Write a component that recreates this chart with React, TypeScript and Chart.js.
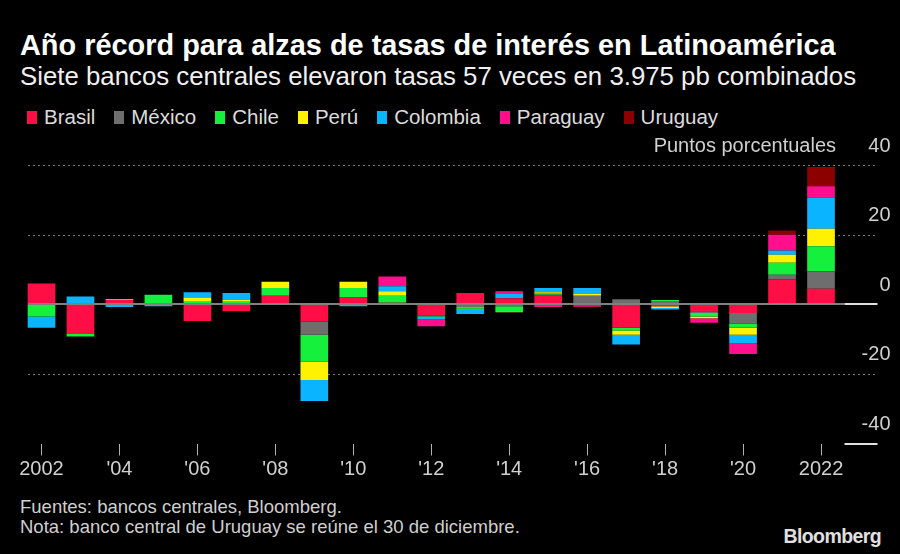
import React, { useEffect, useRef } from 'react';
import { Chart, registerables } from 'chart.js';

Chart.register(...registerables);

const years = ['2002','2003','2004','2005','2006','2007','2008','2009','2010','2011','2012','2013','2014','2015','2016','2017','2018','2019','2020','2021','2022'];
const xTickLabels = ['2002','',"'04",'',"'06",'',"'08",'',"'10",'',"'12",'',"'14",'',"'16",'',"'18",'',"'20",'','2022'];
const yTickValues = [-40, -20, 0, 20, 40];

const brasil   = [6.0, -8.5, 1.25, 0.25, -4.75, -2.0, 2.5, -5.0, 2.0, 0.5, -3.25, 3.25, 1.75, 2.5, -0.5, -6.75, -0.5, -2.0, -2.5, 7.25, 4.5];
const mexico   = [0, 0, 0, 0, 0, 0, 0, -3.75, 0, 0, 0, -0.75, -0.5, 0.25, 2.5, 1.5, 1.0, -0.5, -3.0, 1.25, 5.0];
const chile    = [-3.5, -0.75, 0, 2.5, 0.75, 0.75, 2.25, -7.75, 2.75, 2.0, -0.25, -0.5, -1.5, 0.5, 0, -0.75, 0.25, -1.0, -1.25, 3.5, 7.25];
const peru     = [0, 0.25, 0.25, 0, 1.25, 0.5, 1.75, -5.25, 1.75, 1.25, 0, -0.25, -0.25, 0.25, 0.5, -1.25, -0.5, -0.5, -2.0, 2.25, 5.0];
const colombia = [-3.25, 2.0, -0.75, -0.5, 1.5, 2.0, 0, -6.0, -0.5, 1.5, -0.75, -1.25, 1.25, 1.25, 1.75, -2.75, -0.5, 0, -2.5, 1.25, 9.0];
const paraguay = [0, 0, 0, 0, 0, 0, 0, 0, 0, 2.75, -2.0, 0, 0.75, -0.75, -0.25, 0, 0, -1.25, -3.0, 4.5, 3.25];
const uruguay  = [0, 0, 0, 0, 0, 0, 0, 0, 0, 0, 0, 0, 0, 0, 0, 0, 0, 0, 0, 1.25, 5.5];

const seriesNames = ['Brasil', 'México', 'Chile', 'Perú', 'Colombia', 'Paraguay', 'Uruguay'];
const seriesData = [brasil, mexico, chile, peru, colombia, paraguay, uruguay];
const seriesColors = ['#ff0d45', '#6e6e6e', '#14f03c', '#fff200', '#0ab4ff', '#ff0f8c', '#8c0000'];

const FONT = '"Liberation Sans", Arial, Helvetica, sans-serif';

const linesPlugin = {
  id: 'refLines',
  beforeDatasetsDraw(chart: any) {
    const { ctx, chartArea, scales } = chart;
    const y = scales.y;
    ctx.save();
    ctx.strokeStyle = '#7c7c7c';
    ctx.lineWidth = 1;
    ctx.setLineDash([2, 3]);
    for (const v of [40, 20, -20]) {
      const py = Math.round(y.getPixelForValue(v)) + 0.5;
      ctx.beginPath();
      ctx.moveTo(chartArea.left + 6, py);
      ctx.lineTo(chartArea.right + 37, py);
      ctx.stroke();
    }
    ctx.restore();
  },
  afterDatasetsDraw(chart: any) {
    const { ctx, chartArea, scales } = chart;
    const y = scales.y;
    ctx.save();
    const p0 = Math.round(y.getPixelForValue(0));
    ctx.fillStyle = '#808080';
    ctx.fillRect(chartArea.left + 6, p0 - 1, chartArea.right + 4 - (chartArea.left + 6), 2);
    ctx.fillStyle = '#e0e0e0';
    ctx.fillRect(chartArea.right + 4, p0 - 1, 33, 2);
    const pm = Math.round(y.getPixelForValue(-40));
    ctx.fillRect(chartArea.right + 4, pm - 1, 33, 2);
    ctx.restore();
  },
};

function BarChart() {
  const ref = useRef<HTMLCanvasElement | null>(null);
  useEffect(() => {
    if (!ref.current) return;
    const chart = new Chart(ref.current, {
      type: 'bar',
      data: {
        labels: years,
        datasets: seriesNames.map((name, i) => ({
          label: name,
          data: seriesData[i],
          backgroundColor: seriesColors[i],
          borderWidth: 0,
          stack: 's',
          barPercentage: 0.71,
          categoryPercentage: 1.0,
        })),
      },
      options: {
        responsive: false,
        devicePixelRatio: 1,
        animation: false,
        events: [],
        layout: { padding: { left: 22, right: 9.5, top: 35.3, bottom: 0 } },
        plugins: { legend: { display: false }, tooltip: { enabled: false }, title: { display: false } },
        scales: {
          x: {
            stacked: true,
            offset: true,
            border: { display: false },
            grid: {
              offset: false,
              drawOnChartArea: false,
              drawTicks: true,
              tickLength: 12,
              tickWidth: 1,
              tickColor: (c: any) => (c.index % 2 === 0 ? '#b0b0b0' : 'rgba(0,0,0,0)'),
            },
            ticks: {
              autoSkip: false,
              maxRotation: 0,
              minRotation: 0,
              padding: 2,
              color: '#d0d0d0',
              font: { family: FONT, size: 20 },
              callback: (_v: any, i: number) => xTickLabels[i],
            },
            afterFit: (s: any) => { s.height = 46.5; },
          },
          y: {
            stacked: true,
            position: 'right',
            min: -40,
            max: 40,
            border: { display: false },
            grid: { display: false, drawTicks: false },
            afterBuildTicks: (s: any) => { s.ticks = yTickValues.map((v) => ({ value: v })); },
            ticks: {
              crossAlign: 'far',
              padding: 0,
              labelOffset: -19,
              color: '#d0d0d0',
              font: { family: FONT, size: 20 },
              callback: (v: any) => String(v),
            },
            afterFit: (s: any) => { s.width = 50; },
          },
        },
      },
      plugins: [linesPlugin],
    } as any);
    return () => chart.destroy();
  }, []);
  return <canvas ref={ref} width={900} height={360} style={{ position: 'absolute', left: 0, top: 130, width: 900, height: 360 }} />;
}

export default function App() {
  return (
    <div style={{ position: 'fixed', left: 0, top: 0, width: 900, height: 554, background: '#000', overflow: 'hidden', fontFamily: FONT }}>
      <div style={{ position: 'absolute', left: 20, top: 28, fontSize: 28.9, fontWeight: 700, color: '#ffffff', whiteSpace: 'nowrap', lineHeight: '34px' }}>
        Año récord para alzas de tasas de interés en Latinoamérica
      </div>
      <div style={{ position: 'absolute', left: 20, top: 61, fontSize: 25.8, color: '#f0f0f0', whiteSpace: 'nowrap', lineHeight: '30px' }}>
        Siete bancos centrales elevaron tasas 57 veces en 3.975 pb combinados
      </div>
      <div style={{ position: 'absolute', left: 27, top: 105, height: 24, display: 'flex', alignItems: 'center', gap: 19, fontSize: 20.5, color: '#dcdcdc', whiteSpace: 'nowrap' }}>
        {seriesNames.map((n, i) => (
          <div key={n} style={{ display: 'flex', alignItems: 'center' }}>
            <span style={{ display: 'inline-block', width: 10, height: 13, background: seriesColors[i], marginRight: 7 }} />
            <span>{n}</span>
          </div>
        ))}
      </div>
      <BarChart />
      <div style={{ position: 'absolute', right: 64, top: 133, fontSize: 20, lineHeight: '24px', color: '#d0d0d0', whiteSpace: 'nowrap' }}>
        Puntos porcentuales
      </div>
      <div style={{ position: 'absolute', left: 20, top: 497, fontSize: 18.5, lineHeight: '20px', color: '#cfcfcf', whiteSpace: 'nowrap' }}>
        <div>Fuentes: bancos centrales, Bloomberg.</div>
        <div>Nota: banco central de Uruguay se reúne el 30 de diciembre.</div>
      </div>
      <div style={{ position: 'absolute', right: 19, top: 524, fontSize: 19.5, fontWeight: 700, lineHeight: '24px', color: '#e0e0e0', letterSpacing: -0.6 }}>
        Bloomberg
      </div>
    </div>
  );
}
